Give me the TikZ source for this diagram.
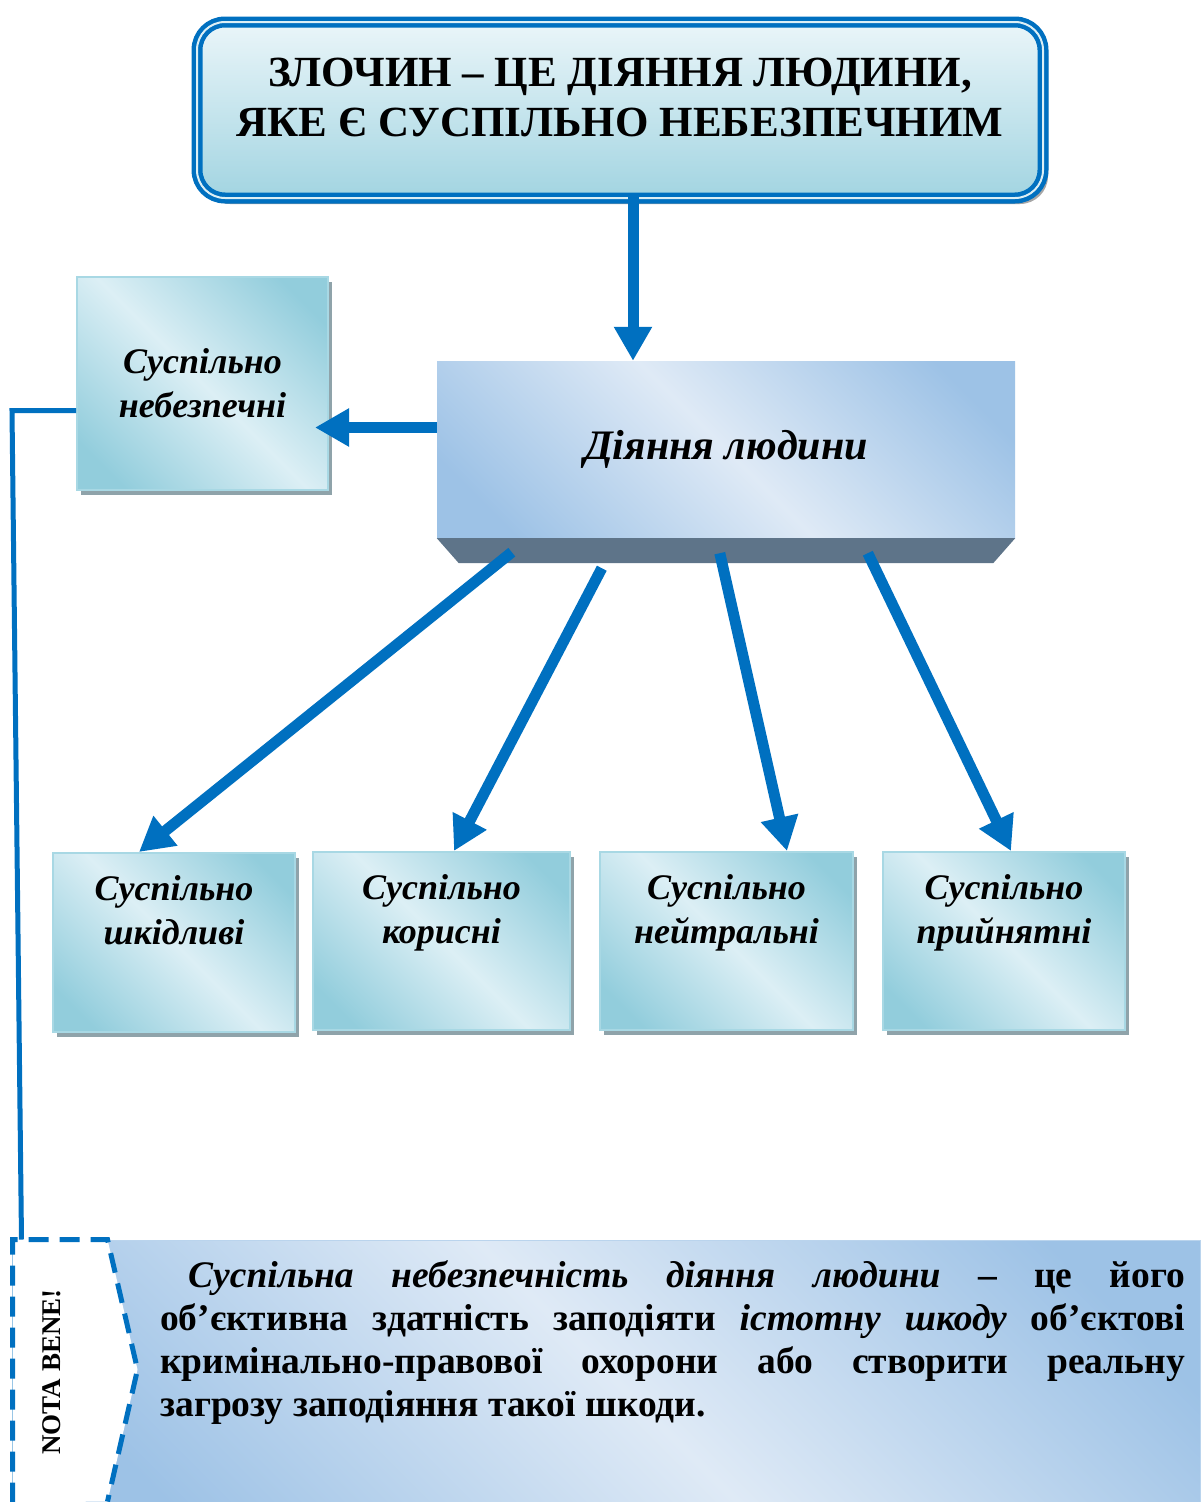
\documentclass[tikz,border=0pt]{standalone}
\usepackage{fontspec}
\setmainfont{Liberation Serif}
\usetikzlibrary{arrows.meta, positioning, calc, shadows}

\definecolor{arrblue}{HTML}{0070C0}
\definecolor{tlight}{HTML}{DCEFF5}
\definecolor{tdark}{HTML}{92CDDC}
\definecolor{tedge}{HTML}{A8D8E4}
\definecolor{shgrey}{HTML}{8FA3AA}
\definecolor{blight}{HTML}{DFEAF6}
\definecolor{bdark}{HTML}{9DC2E6}
\definecolor{bevelgrey}{HTML}{5E7489}

\pgfdeclarehorizontalshading{tealband}{100bp}{color(0bp)=(tdark); color(22bp)=(tdark); color(50bp)=(tlight); color(78bp)=(tdark); color(100bp)=(tdark)}
\pgfdeclarehorizontalshading{blueband}{100bp}{color(0bp)=(bdark); color(22bp)=(bdark); color(50bp)=(blight); color(78bp)=(bdark); color(100bp)=(bdark)}

\begin{document}
\begin{tikzpicture}[x=1pt, y=-1pt,
    arr/.style={draw=arrblue, line width=11pt, -{Triangle[width=36pt,length=34pt]}},
    link/.style={draw=arrblue, line width=5pt},
    topbox/.style={rounded corners=28pt, draw=arrblue, line width=4.5pt, double=tlight, double distance=2pt,
        top color=tlight!60!white, bottom color=tdark!85!white, minimum width=846pt, minimum height=176pt,
        drop shadow={shadow xshift=5pt, shadow yshift=-6pt, fill=gray!70, opacity=1}},
    toptext/.style={font=\fontsize{43}{50}\selectfont\bfseries, align=center},
    dbox/.style={shading=blueband, shading angle=45, minimum width=578pt, minimum height=177pt,
        inner sep=0pt, font=\fontsize{42}{50}\selectfont\bfseries\itshape},
    tbox/.style={draw=tedge, line width=2pt, shading=tealband, shading angle=45, inner sep=0pt,
        drop shadow={shadow xshift=4pt, shadow yshift=-5pt, fill=shgrey, opacity=1}},
    lbl/.style={font=\fontsize{36}{44}\selectfont\bfseries\itshape, align=center, inner sep=2pt},
    nbbox/.style={shading=blueband, shading angle=45, draw=bdark!70, line width=1pt,
        minimum width=1187pt, minimum height=262pt, inner sep=0pt},
    tabline/.style={draw=arrblue, line width=5pt, dash pattern=on 20pt off 11pt}
  ]
  \useasboundingbox[fill=white] (0,0) rectangle (1200,1502);

  % Головне визначення
  \node[topbox] (Z) at (620,110) {};
  \node[toptext] (Zt) at (620,97) {ЗЛОЧИН – ЦЕ ДІЯННЯ ЛЮДИНИ,\\ЯКЕ Є СУСПІЛЬНО НЕБЕЗПЕЧНИМ};

  % Діяння людини (з нижньою гранню)
  \node[dbox] (D) at (726,449.5) {Діяння людини};
  \fill[bevelgrey] (D.south west) -- (D.south east) -- ++(-22,25) -- ($(D.south west)+(22,25)$) -- cycle;

  % Суспільно небезпечні
  \node[tbox, minimum width=251pt, minimum height=213pt, lbl] (N) at (202.5,383.5) {Суспільно\\небезпечні};

  % Нижні блоки
  \node[tbox, minimum width=242pt, minimum height=179pt] (S1) at (174,942.5) {};
  \node[tbox, minimum width=257pt, minimum height=178pt] (S2) at (441.5,941) {};
  \node[tbox, minimum width=253pt, minimum height=178pt] (S3) at (726.5,941) {};
  \node[tbox, minimum width=242pt, minimum height=178pt] (S4) at (1004,941) {};
  \node[lbl, below=21pt of S1.north] (S1t) {Суспільно\\шкідливі};
  \node[lbl, below=21pt of S2.north] (S2t) {Суспільно\\корисні};
  \node[lbl, below=21pt of S3.north] (S3t) {Суспільно\\нейтральні};
  \node[lbl, below=21pt of S4.north] (S4t) {Суспільно\\прийнятні};

  % NOTA BENE
  \node[nbbox] (NB) at (606.5,1371) {};
  \fill[white] (NB.north west) -- ++(95,0) -- ++(30,130) -- ++(-30,132) -- (NB.south west) -- cycle;
  \draw[arrblue!40, line width=1pt] (NB.south west) -- (NB.north west);
  \draw[tabline] (NB.south west) -- (NB.north west) -- ++(95,0) -- ++(30,130) -- ++(-30,132);
  \node[rotate=90, font=\fontsize{27}{30}\selectfont\bfseries] (NBl) at (52,1372) {NOTA BENE!};
  \node[anchor=base west, inner sep=0pt, text width=1025pt, align=justify,
        font=\fontsize{37.5}{43}\selectfont\bfseries] (NBt) at (160,1287)
    {\hyphenpenalty=10000\exhyphenpenalty=10000\hspace*{28pt}\textit{Суспільна небезпечність діяння людини} – це його\linebreak
     об’єктивна здатність заподіяти \textit{істотну шкоду} об’єктові\linebreak
     кримінально-правової охорони або створити реальну\linebreak
     загрозу заподіяння такої шкоди.};

  % Стрілки
  \coordinate (zd) at (633,195);
  \draw[arr] (zd) -- (zd |- D.north);
  \draw[arr, shorten >=-14pt] ([yshift=22pt]D.west) -- ([yshift=22pt]D.west -| N.east);
  \coordinate (d1) at ([shift={(75,14)}]D.south west);
  \coordinate (d2) at ([shift={(165,30)}]D.south west);
  \coordinate (d3) at ([shift={(283,15)}]D.south west);
  \coordinate (d4) at ([shift={(431,15)}]D.south west);
  \draw[arr] (d1) -- ([xshift=87pt]S1.north west);
  \draw[arr] (d2) -- ([xshift=142pt]S2.north west);
  \draw[arr] (d3) -- ([xshift=188pt]S3.north west);
  \draw[arr] (d4) -- ([xshift=129pt]S4.north west);

  % Лінія до NOTA BENE
  \draw[link] ([yshift=-27pt]N.west) -- ++(-64,0) -- ([xshift=9pt]NB.north west);
\end{tikzpicture}
\end{document}
